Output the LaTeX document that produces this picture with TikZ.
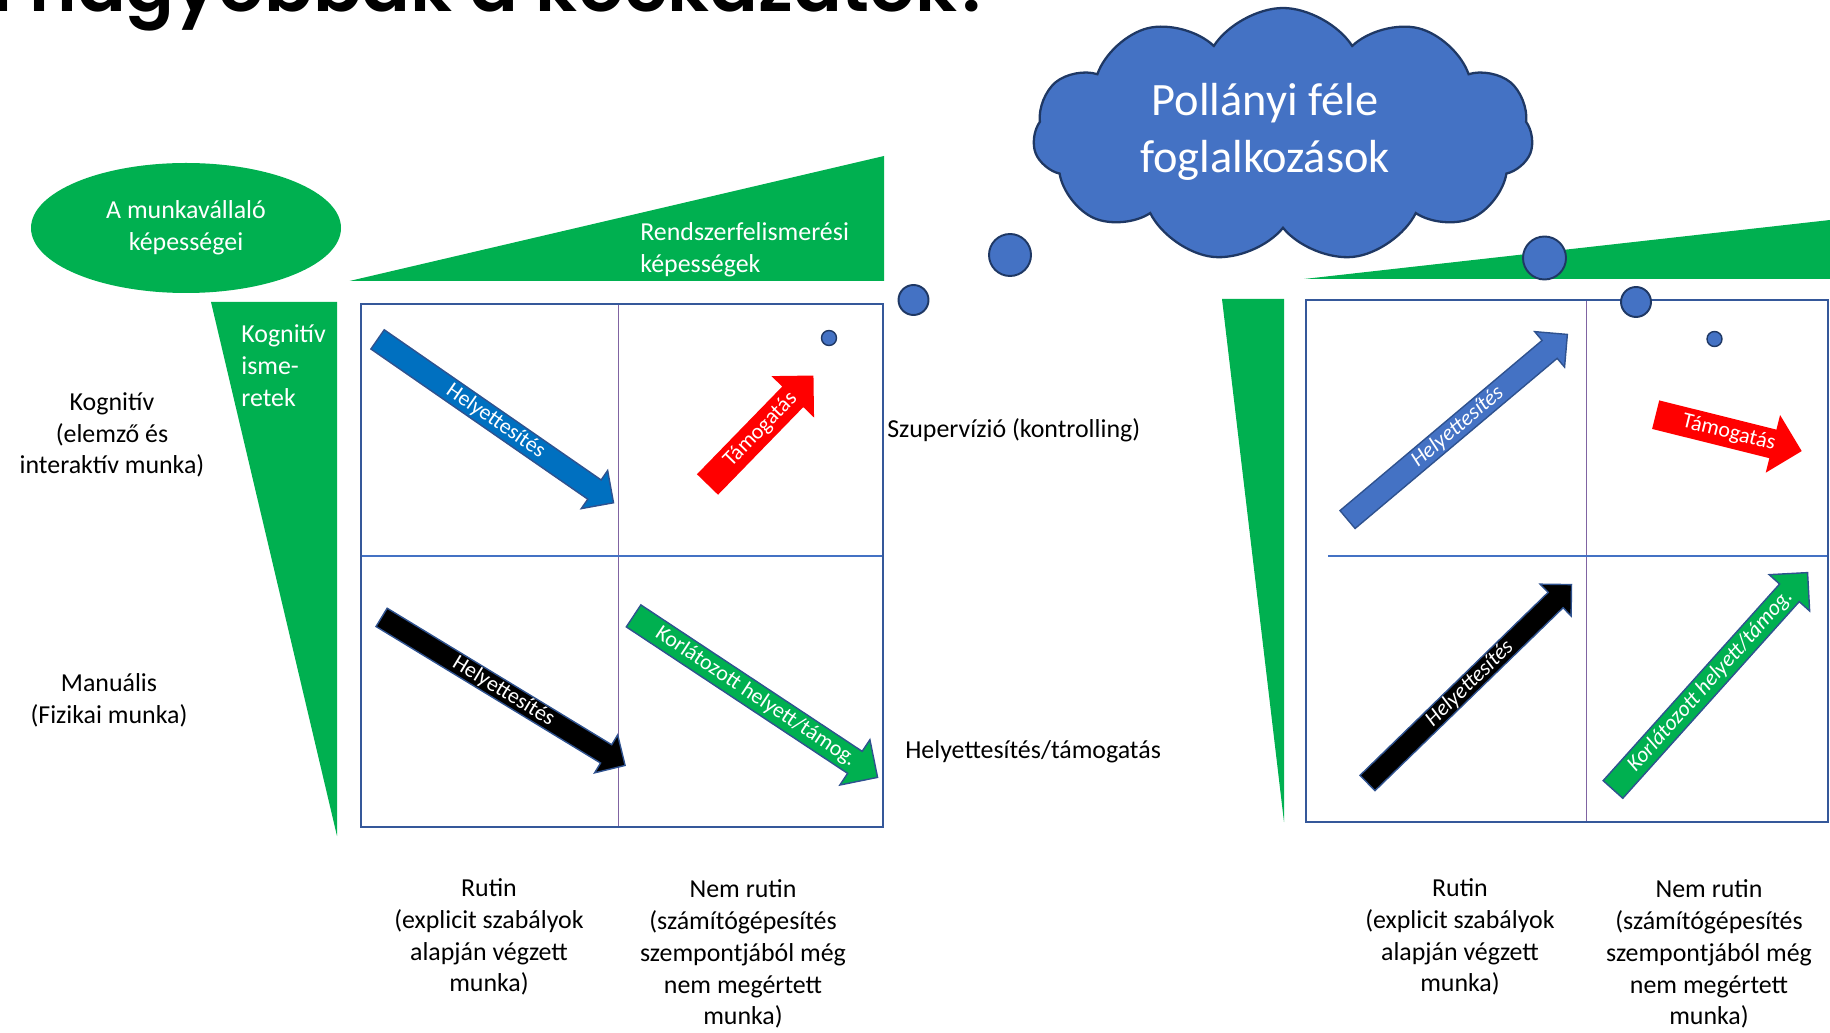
\documentclass[tikz,border=0pt]{standalone}
\usepackage{fontspec}
\setmainfont{Carlito}
\newfontfamily\titlefont{Poppins}[BoldFont={* SemiBold}]
\usetikzlibrary{shapes.geometric,shapes.arrows,shapes.symbols,calc}

\definecolor{zold}{HTML}{00B050}
\definecolor{kek}{HTML}{4472C4}
\definecolor{sotetkek}{HTML}{0070C0}
\definecolor{keret}{HTML}{35589A}
\definecolor{korvonal}{HTML}{2F528F}
\definecolor{felhovonal}{HTML}{1F3864}
\definecolor{lila}{HTML}{8064A2}

\newcommand\pxu{0.02cm}
\newcommand\szoveg{\fontsize{14.74}{18.14}\selectfont}
\newcommand\nyilszoveg{\fontsize{12.5}{15}\selectfont}

\tikzset{
  cimke/.style={align=center, inner sep=0pt, font=\szoveg},
  feher/.style={cimke, text=white},
  buborek/.style={circle, fill=kek, draw=felhovonal, line width=1.1pt, inner sep=0pt},
  nyil/.style={single arrow, anchor=tail, inner xsep=0pt, minimum width=0pt, draw=korvonal, line width=0.8pt},
  helyny/.style={nyil, inner ysep=11*\pxu, single arrow head extend=11.5*\pxu},
  tamny/.style={nyil, draw=none, fill=red, inner ysep=14*\pxu, single arrow head extend=15*\pxu},
  feketeny/.style={nyil, fill=black, inner ysep=10*\pxu, single arrow head extend=11.5*\pxu},
  korlny/.style={nyil, fill=zold, inner ysep=12.5*\pxu, single arrow head extend=14*\pxu},
  nyilfelirat/.style={inner sep=0pt, text=white, font=\nyilszoveg}
}

\begin{document}
\begin{tikzpicture}[x=\pxu, y=-\pxu]
\clip (0,0) rectangle (1830,1033);

% cim (csak az alja latszik)
\node[anchor=base east, inner sep=0pt, font=\titlefont\bfseries\fontsize{41}{44}\selectfont] (cim) at (997,12) {Hol nagyobbak a kockázatok?};

% zold haromszogek
\fill[zold] (349.5,281) -- (884,156) -- (884,281) -- cycle;
\fill[zold] (211,302) -- (337,302) -- (337,836) -- cycle;
\fill[zold] (1304,279) -- (1830,220) -- (1830,279) -- cycle;
\fill[zold] (1222,299) -- (1284,299) -- (1284,822) -- cycle;

\node[ellipse, fill=zold, minimum width=310*\pxu, minimum height=130*\pxu, feher] (kepesseg) at (186,228) {A munkavállaló\\képességei};
\node[feher, anchor=west, align=left] (rendszer) at (640,250) {Rendszerfelismerési\\képességek};
\node[feher, anchor=west, align=left] (kogism) at (241,366) {Kognitív\\isme-\\retek};

% felho es buborekok
\node[cloud, cloud puffs=11, cloud puff arc=115, cloud ignores aspect, minimum width=500*\pxu, minimum height=254*\pxu, fill=kek, draw=felhovonal, line width=1.3pt] (felho) at (1283,135) {};
\node[feher, font=\fontsize{26.4}{32.3}\selectfont] (felhoszoveg) at (1265,132) {Pollányi féle\\foglalkozások};

% bal matrix
\draw[lila, line width=0.5pt] (618,304) -- (618,827);
\draw[kek, line width=0.6pt] (361,556) -- (883,556);
\draw[keret, line width=1.3pt] (361,304) rectangle (883,827);

% jobb matrix
\draw[lila, line width=0.5pt] (1586,300) -- (1586,822);
\draw[kek, line width=0.6pt] (1328,556) -- (1828,556);
\draw[keret, line width=1.3pt] (1306,300) rectangle (1828,822);

\node[buborek, minimum size=30*\pxu] (bub1) at (913.5,300) {};
\node[buborek, minimum size=42*\pxu] (bub2) at (1010,255) {};
\node[buborek, minimum size=43*\pxu] (bub3) at (1544.5,258) {};
\node[buborek, minimum size=30*\pxu] (bub4) at (1636,302) {};
\node[buborek, minimum size=15*\pxu, line width=0.8pt] (pont1) at (829,338) {};
\node[buborek, minimum size=15*\pxu, line width=0.8pt] (pont2) at (1714.5,339) {};

% bal nyilak
\node[helyny, fill=sotetkek, rotate=-34.7, minimum height=287*\pxu] (lkek) at (377,339) {};
\node[nyilfelirat, rotate=-34.7] (lkekf) at ($(lkek.tail)!.5!(lkek.tip)$) {Helyettesítés};
\node[tamny, rotate=45.8, minimum height=152*\pxu] (lpiros) at (707,485) {};
\node[nyilfelirat, rotate=45.8] (lpirosf) at ($(lpiros.tail)!.5!(lpiros.tip)$) {Támogatás};
\node[feketeny, rotate=-31.3, minimum height=285*\pxu] (lfekete) at (381,617) {};
\node[nyilfelirat, rotate=-31.3] (lfeketef) at ($(lfekete.tail)!.5!(lfekete.tip)$) {Helyettesítés};
\node[korlny, rotate=-33.5, minimum height=292.6*\pxu] (lzold) at (633,615.5) {};
\node[nyilfelirat, rotate=-33.5] (lzoldf) at ($(lzold.tail)!.5!(lzold.tip)$) {Korlátozott helyett/támog.};

% jobb nyilak
\node[helyny, fill=kek, rotate=40.1, minimum height=287.4*\pxu] (rkek) at (1347,520) {};
\node[nyilfelirat, rotate=40.1, font=\nyilszoveg\itshape] (rkekf) at ($(rkek.tail)!.5!(rkek.tip)$) {Helyettesítés};
\node[tamny, rotate=-14, minimum height=150.5*\pxu] (rpiros) at (1655,414.5) {};
\node[nyilfelirat, rotate=-14] (rpirosf) at ($(rpiros.tail)!.5!(rpiros.tip)$) {Támogatás};
\node[feketeny, rotate=44.2, minimum height=284.6*\pxu] (rfekete) at (1367,783.5) {};
\node[nyilfelirat, rotate=44.2, font=\nyilszoveg\itshape] (rfeketef) at ($(rfekete.tail)!.5!(rfekete.tip)$) {Helyettesítés};
\node[korlny, rotate=48.1, minimum height=291.4*\pxu] (rzold) at (1612.5,790) {};
\node[nyilfelirat, rotate=48.1, font=\nyilszoveg\itshape] (rzoldf) at ($(rzold.tail)!.5!(rzold.tip)$) {Korlátozott helyett/támog.};

% feliratok
\node[cimke] (kognitiv) at (112,435) {Kognitív\\(elemző és\\interaktív munka)};
\node[cimke] (manualis) at (109,700) {Manuális\\(Fizikai munka)};
\node[cimke, anchor=west] (szuperv) at (887,430) {Szupervízió (kontrolling)};
\node[cimke, anchor=west] (helytam) at (905,752) {Helyettesítés/támogatás};
\node[cimke] (lrutin) at (489,937) {Rutin\\(explicit szabályok\\alapján végzett\\munka)};
\node[cimke] (lnemrutin) at (743,954) {Nem rutin\\(számítógépesítés\\szempontjából még\\nem megértett\\munka)};
\node[cimke] (rrutin) at (1460,937) {Rutin\\(explicit szabályok\\alapján végzett\\munka)};
\node[cimke] (rnemrutin) at (1709,954) {Nem rutin\\(számítógépesítés\\szempontjából még\\nem megértett\\munka)};
\end{tikzpicture}
\end{document}
